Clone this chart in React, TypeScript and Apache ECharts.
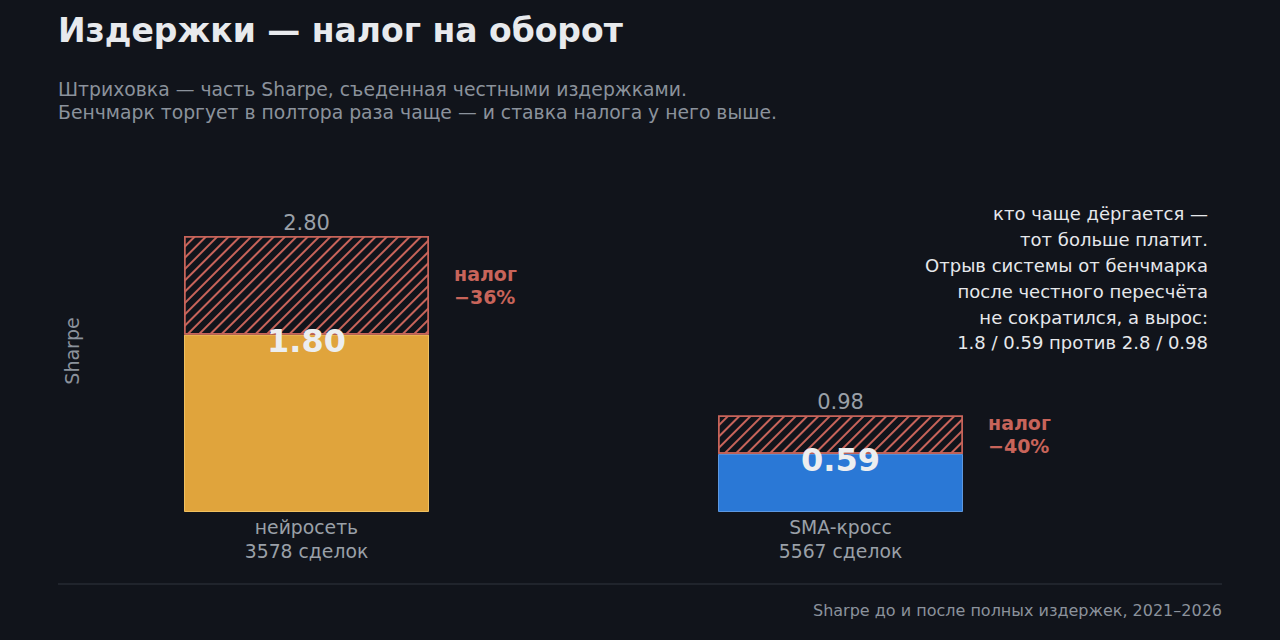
import { useEffect, useRef } from 'react';
import * as echarts from 'echarts';

// данные
const categories = ['нейросеть', 'SMA-кросс'];
const tradeCounts = [3578, 5567];
const grossSharpe = [2.8, 0.98];
const netSharpe = [1.8, 0.59];
const barColors = ['#e0a43c', '#2a78d6'];
const barBorders = ['#f0c060', '#5d98e0'];

const costSharpe = grossSharpe.map((g, i) => +(g - netSharpe[i]).toFixed(2));
const taxPct = grossSharpe.map((g, i) => Math.round(((g - netSharpe[i]) / g) * 100));

const BG = '#11141b';
const HATCH = '#c8645a';
const FONT = '"DejaVu Sans", sans-serif';

const noteLines = [
  'кто чаще дёргается —',
  'тот больше платит.',
  'Отрыв системы от бенчмарка',
  'после честного пересчёта',
  'не сократился, а вырос:',
  '1.8 / 0.59 против 2.8 / 0.98',
];

export default function App() {
  const chartRef = useRef<HTMLDivElement>(null);

  useEffect(() => {
    document.body.style.margin = '0';
    document.body.style.background = BG;
    if (!chartRef.current) return;
    const chart = echarts.init(chartRef.current, undefined, { renderer: 'svg' });

    const option: echarts.EChartsOption = {
      animation: false,
      backgroundColor: BG,
      textStyle: { fontFamily: FONT },
      title: [
        {
          text: 'Издержки — налог на оборот',
          left: 58,
          top: 14,
          padding: 0,
          textStyle: { color: '#e8eaed', fontSize: 33, fontWeight: 'bold', fontFamily: FONT },
        },
        {
          text: 'Штриховка — часть Sharpe, съеденная честными издержками.\nБенчмарк торгует в полтора раза чаще — и ставка налога у него выше.',
          left: 58,
          top: 78,
          padding: 0,
          textStyle: {
            color: '#8b929c',
            fontSize: 18.8,
            fontWeight: 'normal',
            lineHeight: 23,
            fontFamily: FONT,
          },
        },
      ],
      grid: { left: 39.5, width: 1068, top: 167, height: 345 },
      xAxis: {
        type: 'category',
        data: categories,
        axisLine: { show: false },
        axisTick: { show: false },
        axisLabel: {
          color: '#9aa0a8',
          fontSize: 18.8,
          lineHeight: 24,
          margin: 3,
          fontFamily: FONT,
          formatter: (v: string, i: number) => `${v}\n${tradeCounts[i]} сделок`,
        },
      },
      yAxis: {
        type: 'value',
        min: 0,
        max: 3.5,
        axisLabel: { show: false },
        axisLine: { show: false },
        axisTick: { show: false },
        splitLine: { show: false },
      },
      series: [
        {
          name: 'net',
          type: 'bar',
          stack: 'sharpe',
          barWidth: 245,
          data: netSharpe.map((v, i) => ({
            value: v,
            itemStyle: { color: barColors[i], borderColor: barBorders[i], borderWidth: 1 },
          })),
          label: {
            show: true,
            position: ['50%', 6],
            align: 'center',
            verticalAlign: 'middle',
            color: '#eceef0',
            fontSize: 32,
            fontWeight: 'bold',
            fontFamily: FONT,
            formatter: (p: any) => p.value.toFixed(2),
          },
        },
        {
          name: 'cost',
          type: 'bar',
          stack: 'sharpe',
          barWidth: 245,
          data: costSharpe,
          itemStyle: {
            color: BG,
            borderColor: HATCH,
            borderWidth: 1.5,
            decal: {
              symbol: 'rect',
              symbolSize: 1,
              color: HATCH,
              dashArrayX: [1, 0],
              dashArrayY: [1.3, 5.7],
              rotation: -Math.PI / 4,
            },
          },
          label: {
            show: true,
            position: 'right',
            distance: 25,
            align: 'left',
            color: HATCH,
            fontSize: 19,
            fontWeight: 'bold',
            lineHeight: 23,
            fontFamily: FONT,
            formatter: (p: any) => `налог\n−${taxPct[p.dataIndex]}%`,
          },
        },
        {
          name: 'gross',
          type: 'bar',
          stack: 'sharpe',
          barWidth: 245,
          data: grossSharpe.map(() => 0),
          itemStyle: { color: 'transparent' },
          label: {
            show: true,
            position: 'top',
            distance: 3,
            color: '#9aa0a8',
            fontSize: 21,
            fontFamily: FONT,
            formatter: (p: any) => grossSharpe[p.dataIndex].toFixed(2),
          },
        },
      ],
      graphic: [
        {
          type: 'text',
          x: 72,
          y: 351,
          rotation: Math.PI / 2,
          style: {
            text: 'Sharpe',
            fill: '#8b929c',
            fontSize: 19,
            fontFamily: FONT,
            align: 'center',
            verticalAlign: 'middle',
          },
        },
        {
          type: 'text',
          x: 1208,
          y: 201,
          style: {
            text: noteLines.join('\n'),
            fill: '#e6e8eb',
            fontSize: 18,
            lineHeight: 25.8,
            fontFamily: FONT,
            align: 'right',
            verticalAlign: 'top',
          },
        },
        {
          type: 'line',
          shape: { x1: 58, y1: 584, x2: 1222, y2: 584 },
          style: { stroke: '#262a33', lineWidth: 1.5 },
        },
        {
          type: 'text',
          x: 1222,
          y: 610,
          style: {
            text: 'Sharpe до и после полных издержек, 2021–2026',
            fill: '#8b929c',
            fontSize: 16,
            fontFamily: FONT,
            align: 'right',
            verticalAlign: 'middle',
          },
        },
      ],
    };

    chart.setOption(option);
    return () => chart.dispose();
  }, []);

  return <div ref={chartRef} style={{ width: 1280, height: 640 }} />;
}
